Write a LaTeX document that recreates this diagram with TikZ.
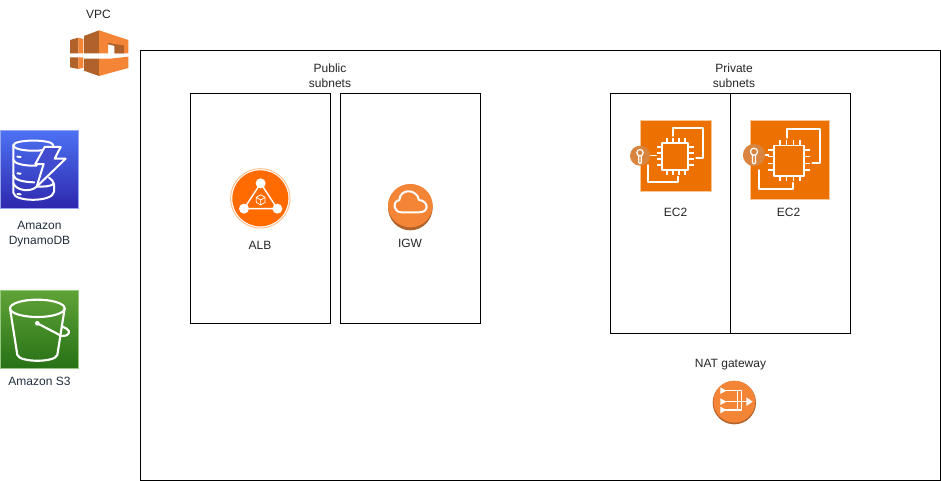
\documentclass[tikz,border=0pt]{standalone}
\usepackage{fontspec}
\setmainfont{Liberation Sans}
\definecolor{awsor}{HTML}{F58536}
\definecolor{awsbr}{HTML}{B0622A}
\definecolor{ectwoor}{HTML}{ED7100}
\definecolor{keyor}{HTML}{D9853F}
\definecolor{lblue}{HTML}{232F3E}
\definecolor{ddbtop}{HTML}{4D72F3}
\definecolor{ddbbot}{HTML}{2E27AD}
\definecolor{ddbedge}{HTML}{96A5F0}
\definecolor{ddbmid}{HTML}{404BCD}
\definecolor{sthtop}{HTML}{60A337}
\definecolor{sthbot}{HTML}{277116}
\definecolor{sthedge}{HTML}{96C882}
\definecolor{albedge}{HTML}{FFBE8C}
\definecolor{albfill}{HTML}{FF6B00}
\tikzset{
  zone/.style={draw=black,line width=.75pt,fill=none},
  lbl/.style={font=\fontsize{9}{11.2}\selectfont,align=center,text=black!85,inner sep=0pt},
  awslbl/.style={lbl,text=lblue},
  wline/.style={draw=white,line width=1.5pt,line join=round,line cap=round},
  zoomed/.style={x=.25pt,y=-.25pt}
}
\newcommand{\ectwoicon}[5]{% x y size keyx keyy
  \begin{scope}[shift={(#1,#2)},x=#3*.75pt/71,y=-#3*.75pt/71]
    \fill[ectwoor] (0,0) rectangle (71,71);
    \draw[white!60!ectwoor,line width=.5pt] (0,0) rectangle (71,71);
    \draw[wline,line width=1.35pt] (33.3,16) -- (33.3,8.3) -- (62.7,8.3) -- (62.7,38.3) -- (56,38.3);
    \draw[wline,line width=1.35pt] (8.3,45) -- (8.3,61.7) -- (38.3,61.7) -- (38.3,56.5);
    \draw[wline,line width=1.35pt] (21.7,23) rectangle (48.3,50);
    \foreach \t in {27,33,39,45}{
      \draw[white,line width=1.1pt] (\t,23) -- (\t,18);
      \draw[white,line width=1.1pt] (\t,50) -- (\t,55);
    }
    \foreach \t in {27,33,39,45}{
      \draw[white,line width=1.1pt] (21.7,\t) -- (16.5,\t);
      \draw[white,line width=1.1pt] (48.3,\t) -- (53.5,\t);
    }
    \draw[white,line width=1.1pt] (#4,#5) -- (17,#5);
    \fill[keyor] (#4,#5) circle (10);
    \draw[white,line width=.9pt] (#4,#5-3) circle (3.2);
    \draw[white,line width=.9pt,line join=round] (#4-1.3,#5) -- (#4-1.3,#5+7) -- (#4,#5+8) -- (#4+1.3,#5+7) -- (#4+1.3,#5);
  \end{scope}
}
\begin{document}
\begin{tikzpicture}[x=.75pt,y=-.75pt]
\useasboundingbox (0,0) rectangle (941,481);
\fill[white] (0,0) rectangle (941,481);
% zones
\draw[zone] (140.5,50.5) rectangle (940.4,480.4);
\draw[zone] (190.5,93.5) rectangle (330.5,323.5);
\draw[zone] (340.5,93.5) rectangle (480.5,323.5);
\draw[zone] (610.5,93.5) rectangle (730.5,333.5);
\draw[zone] (730.5,93.5) rectangle (850.5,333.5);
% VPC icon
\begin{scope}[zoomed]
  \fill[awsbr] (210,120) -- (235,113) -- (235,160) -- (210,160) -- cycle;
  \fill[awsor] (235,113) -- (250,117) -- (250,160) -- (235,160) -- cycle;
  \fill[awsbr] (252,108) -- (297,91) -- (297,160) -- (252,160) -- cycle;
  \fill[awsor] (297,91) -- (385,120) -- (385,160) -- (345,160) -- (345,135) -- (324,130) -- (324,160) -- (297,160) -- cycle;
  \fill[awsbr] (343,132) -- (372,136) -- (372,160) -- (343,160) -- cycle;
  \fill[awsbr] (324,128) -- (345,133) -- (345,138) -- (324,133) -- cycle;
  \fill[awsbr] (210,172) -- (235,172) -- (235,207) -- (210,202) -- cycle;
  \fill[awsor] (235,172) -- (250,172) -- (250,203) -- (235,207) -- cycle;
  \fill[awsbr] (252,176) -- (297,176) -- (297,228) -- (252,212) -- cycle;
  \fill[awsor] (297,176) -- (330,176) -- (385,170) -- (385,204) -- (297,228) -- cycle;
\end{scope}
\node[lbl] (vpc) at (98.5,14) {VPC};
% DynamoDB
\shade[top color=ddbtop,bottom color=ddbbot] (0.6,130.2) rectangle (78.6,208.4);
\draw[ddbedge,line width=.6pt] (0.6,130.2) rectangle (78.6,208.4);
\begin{scope}[zoomed]
  \begin{scope}[wline]
    \draw (40,436) .. controls (40,417) and (160,417) .. (160,436);
    \draw (40,436) .. controls (40,452) and (110,456) .. (135,449);
    \draw (40,436) -- (40,478) .. controls (42,492) and (75,498) .. (110,497);
    \draw (40,478) -- (40,525) .. controls (42,540) and (70,546) .. (103,547);
    \draw (40,525) -- (40,578) .. controls (42,607) and (160,607) .. (162,575) -- (162,555) .. controls (162,545) and (155,538) .. (147,533);
    \draw (40,550) .. controls (50,572) and (90,578) .. (110,560) .. controls (130,560) and (155,560) .. (162,550);
    \draw[fill=ddbmid] (134,441) -- (182,441) -- (164,476) -- (197,476) -- (110,560) -- (131,492) -- (106,492) -- cycle;
    \draw (52,470) -- (62,471);
    \draw (52,520) -- (62,521);
    \draw (52,582) -- (62,583);
  \end{scope}
\end{scope}
\node[awslbl] (ddb) at (39.5,234.5) {Amazon\\DynamoDB};
% S3
\shade[top color=sthtop,bottom color=sthbot] (0.6,290.2) rectangle (78.6,368.4);
\draw[sthedge,line width=.6pt] (0.6,290.2) rectangle (78.6,368.4);
\begin{scope}[shift={(0,280)},zoomed]
  \begin{scope}[wline,line width=1.6pt]
    \draw (112,85) ellipse [x radius=82,y radius=26];
    \draw (30,85) -- (52,225) .. controls (60,248) and (165,248) .. (172,225) -- (194,85);
    \draw (112,130) -- (185,168) .. controls (205,170) and (215,155) .. (200,146) -- (188,140);
    \fill[white] (112,130) circle (7);
  \end{scope}
\end{scope}
\node[awslbl] (s3) at (39.5,381) {Amazon S3};
% ALB
\begin{scope}[shift={(220,160)},zoomed]
  \draw[albedge,line width=.7pt] (121,115) circle (89);
  \fill[albfill] (121,115) circle (84);
  \draw[white,line width=1.05pt,line join=round] (122,70) -- (72,146) -- (172,146) -- cycle;
  \fill[white] (122,70) circle (15) (72,146) circle (15) (172,146) circle (15);
  \draw[white,line width=.55pt,line join=round] (122,104) -- (135,112) -- (135,127) -- (122,135) -- (109,127) -- (109,112) -- cycle (109,112) -- (122,120) -- (135,112) (122,120) -- (122,135);
\end{scope}
\node[lbl] (alb) at (260,245) {ALB};
% IGW
\begin{scope}[shift={(220,160)},zoomed]
  \fill[awsbr] (571,142) ellipse [x radius=67,y radius=69];
  \fill[awsor] (571,137) ellipse [x radius=67,y radius=65];
  \draw[wline,line width=1.5pt] (545,157) .. controls (520,157) and (515,125) .. (538,120) .. controls (540,85) and (590,85) .. (597,120) .. controls (625,122) and (630,157) .. (597,157) -- cycle;
\end{scope}
\node[lbl] (igw) at (410,243) {IGW};
% EC2
\ectwoicon{640}{120}{71}{0}{35.7}
\ectwoicon{750}{120}{79}{3.6}{31.5}
\node[lbl] (ec2a) at (675.5,212) {EC2};
\node[lbl] (ec2b) at (788.5,212) {EC2};
% NAT
\begin{scope}[shift={(680,350)},zoomed]
  \fill[awsbr] (163,158) circle (65);
  \fill[awsor] (163,155) circle (63);
  \begin{scope}[white,line width=1.1pt,line join=round]
    \draw (135,122) -- (185,122) -- (185,180) -- (135,180);
    \draw (135,155) -- (200,155);
    \draw (172,122) -- (172,180);
    \fill (121,112) -- (139,122) -- (121,132) -- cycle;
    \fill (121,145) -- (139,155) -- (121,165) -- cycle;
    \fill (121,170) -- (139,180) -- (121,190) -- cycle;
    \fill (199,142) -- (218,155) -- (199,168) -- cycle;
  \end{scope}
\end{scope}
\node[lbl] (nat) at (730.5,365) {NAT gateway};
\node[lbl] (pub) at (330,75.5) {Public\\subnets};
\node[lbl] (priv) at (734,75.5) {Private\\subnets};
\end{tikzpicture}
\end{document}
